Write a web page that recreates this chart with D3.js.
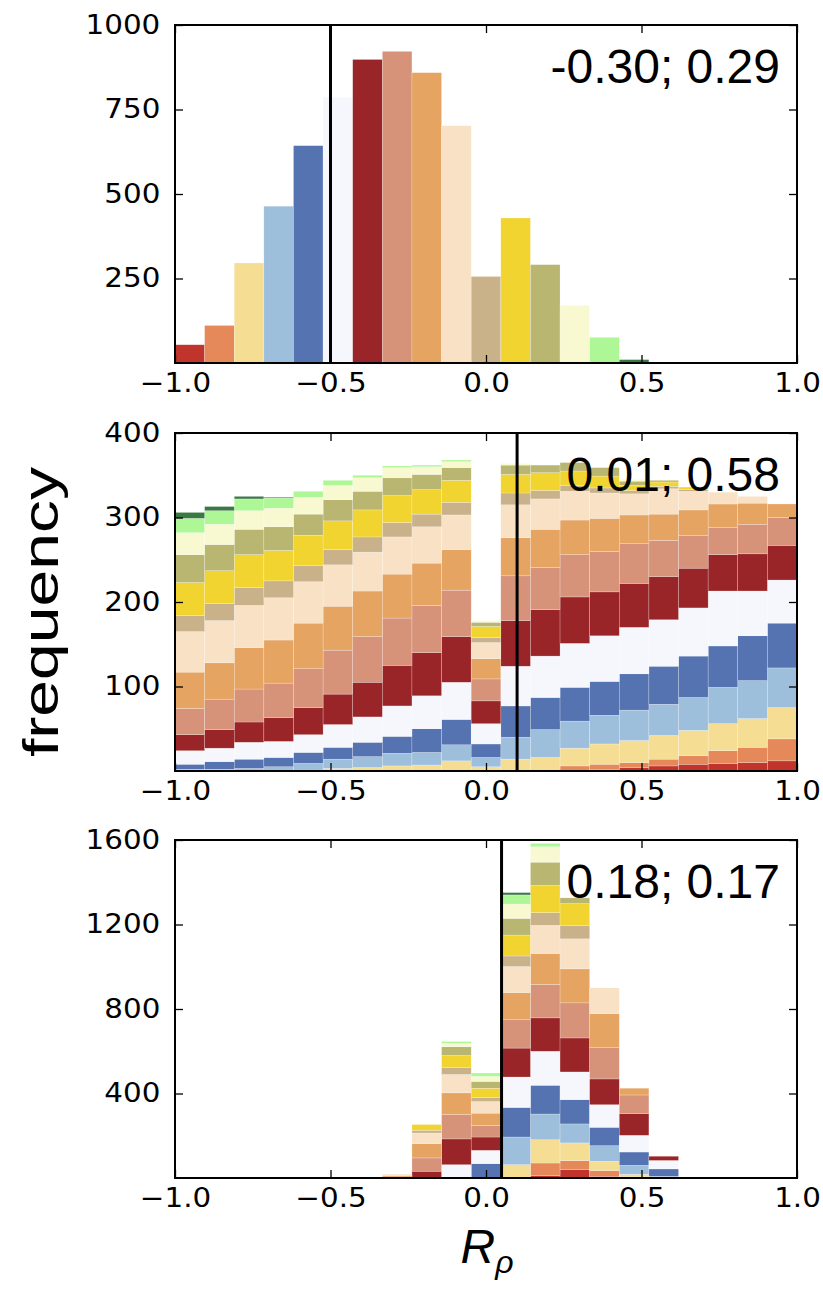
<!DOCTYPE html>
<html><head><meta charset="utf-8">
<script src="https://cdn.jsdelivr.net/npm/d3@7"></script>
<style>body{margin:0;background:#fff}</style>
</head><body>
<svg id="c" width="823" height="1297"></svg>
<script>
// ---- data ----
const nBins = 21;
const binEdges = d3.range(nBins + 1).map(i => -1 + i * 2 / nBins);
const layerColors = ["#c0342c","#e5895a","#f5dd93","#9ebfdc","#5573b1","#f6f7fd","#9a2528","#d6937a",
                     "#e6a463","#f8e1c4","#c9b28a","#f2d431","#b9b671","#f9f9d1","#aef797","#3a7a42"];
// panel 1: one layer per bin (bin k -> layer k)
const p1Counts = [54,111,296,464,643,786,898,922,859,702,256,429,291,170,76,10];
// panel 2: per bin, counts of the 16 layers (bottom -> top)
const p2Columns = [
  [0,0,0,2,6,16,19,31,43,48,19,39,33,26,17,7],
  [0,0,0,2,9,16,22,36,43,50,20,39,31,24,16,5],
  [0,0,0,3,11,20,24,39,49,50,21,39,30,22,14,3],
  [0,0,0,5,11,19,28,41,51,50,20,36,28,22,12,1],
  [0,0,1,8,13,21,32,46,54,49,19,36,25,20,7,0],
  [0,0,3,11,14,27,36,52,52,49,18,34,25,17,6,0],
  [0,0,4,13,17,30,41,54,54,46,18,32,22,16,3,0],
  [0,0,6,15,20,36,48,56,52,44,17,32,21,12,2,0],
  [0,0,7,15,28,39,51,56,50,43,15,29,18,9,2,0],
  [0,0,12,19,30,44,54,55,48,41,15,26,15,7,2,0],
  [0,0,5,11,16,24,27,26,24,19,6,13,5,2,0,0],
  [0,1,13,26,37,47,54,53,45,39,14,22,11,2,0,0],
  [0,2,14,33,38,49,55,50,45,36,10,21,9,0,0,0],
  [1,5,21,32,40,52,55,50,41,34,7,17,10,0,0,0],
  [2,6,24,34,40,54,52,48,39,30,6,14,10,0,0,0],
  [4,6,26,36,43,55,52,47,34,25,4,6,5,2,0,0],
  [6,8,28,37,45,55,51,43,31,30,3,5,2,0,0,0],
  [8,10,30,39,49,57,47,39,30,22,2,3,0,0,0,0],
  [9,15,32,43,49,65,43,32,28,14,0,0,0,0,0,0],
  [10,18,34,45,53,53,44,35,25,8,0,0,0,0,0,0],
  [12,26,37,47,53,51,41,33,16,0,0,0,0,0,0,0]
];
// panel 3
const p3Columns = [
  [0,0,0,0,0,0,0,0,0,0,0,0,0,0,0,0],
  [0,0,0,0,0,0,0,0,0,0,0,0,0,0,0,0],
  [0,0,0,0,0,0,0,0,0,0,0,0,0,0,0,0],
  [0,0,0,0,0,0,0,0,0,0,0,0,0,0,0,0],
  [0,0,0,0,0,0,0,0,0,0,0,0,0,0,0,0],
  [0,0,0,0,0,0,0,0,0,0,0,0,0,0,0,0],
  [0,0,0,0,0,0,0,0,0,0,0,0,0,0,0,0],
  [0,0,0,0,0,0,0,4,6,8,0,0,0,0,0,0],
  [0,0,0,0,0,0,32,63,68,50,13,27,0,0,0,0],
  [0,0,0,0,0,63,122,115,103,87,32,58,41,16,9,0],
  [0,0,0,0,68,63,63,55,58,55,19,44,32,24,16,0],
  [0,0,63,131,140,144,137,134,129,123,50,99,79,68,43,11],
  [11,60,110,122,136,161,158,158,147,133,60,129,110,73,16,0],
  [39,43,84,90,115,131,161,166,161,142,63,104,27,0,0,0],
  [8,27,44,74,87,107,122,150,159,122,0,0,0,0,0,0],
  [0,5,12,43,63,79,103,88,32,0,0,0,0,0,0,0],
  [0,0,0,8,35,40,20,0,0,0,0,0,0,0,0,0],
  [0,0,0,0,0,0,0,0,0,0,0,0,0,0,0,0],
  [0,0,0,0,0,0,0,0,0,0,0,0,0,0,0,0],
  [0,0,0,0,0,0,0,0,0,0,0,0,0,0,0,0],
  [0,0,0,0,0,0,0,0,0,0,0,0,0,0,0,0]
];
const xTicks = [-1, -0.5, 0, 0.5, 1];
const p1YTicks = [250, 500, 750, 1000];
const p2YTicks = [100, 200, 300, 400];
const p3YTicks = [400, 800, 1200, 1600];
const markers = [-0.5, 0.10, 0.05];
const notes = ["-0.30; 0.29", "0.01; 0.58", "0.18; 0.17"];

// panel 1 columns built from its counts
const p1Columns = d3.range(nBins).map(b => d3.range(16).map(k => (k === b && b < p1Counts.length) ? p1Counts[b] : 0));

const panels = [
  {cols: p1Columns, ymax: 1000, yTicks: p1YTicks, top: 25, marker: markers[0], note: notes[0]},
  {cols: p2Columns, ymax: 400, yTicks: p2YTicks, top: 433, marker: markers[1], note: notes[1]},
  {cols: p3Columns, ymax: 1600, yTicks: p3YTicks, top: 840, marker: markers[2], note: notes[2]}
];

const svg = d3.select("#c");
const L = 175, R = 797, H = 338;
const x = d3.scaleLinear().domain([-1, 1]).range([L, R]);
const tickFont = "'DejaVu Sans', sans-serif";
const sx = 1.13;

panels.forEach(p => {
  const y = d3.scaleLinear().domain([0, p.ymax]).range([p.top + H, p.top]);
  const g = svg.append("g");
  const series = d3.stack().keys(d3.range(16))(p.cols);
  series.forEach((s, k) => {
    g.selectAll(null).data(s.map((d, i) => ({d, i})).filter(o => o.d[1] - o.d[0] > 0))
      .enter().append("rect")
      .attr("x", o => x(binEdges[o.i]))
      .attr("width", o => x(binEdges[o.i + 1]) - x(binEdges[o.i]))
      .attr("y", o => y(o.d[1]))
      .attr("height", o => y(o.d[0]) - y(o.d[1]))
      .attr("fill", layerColors[k])
      .attr("stroke", "#ffffff").attr("stroke-width", 0.5).attr("stroke-opacity", 0.45);
  });
  // marker line
  g.append("line").attr("x1", x(p.marker)).attr("x2", x(p.marker))
    .attr("y1", p.top).attr("y2", p.top + H).attr("stroke", "#000").attr("stroke-width", 3);
  // axes
  const style = a => {
    a.selectAll(".domain").remove();
    a.selectAll(".tick line").attr("stroke", "#000").attr("stroke-width", 1.3);
    a.selectAll("text").attr("font-family", tickFont).attr("font-size", 26).attr("fill", "#000");
  };
  g.append("g").attr("transform", `translate(0,${p.top + H})`)
    .call(d3.axisBottom(x).tickValues(xTicks).tickSize(-8).tickPadding(11).tickFormat(d3.format(".1f")))
    .call(style)
    .call(a => a.selectAll("text").attr("transform", `scale(${sx},1)`));
  g.append("g").attr("transform", `translate(0,${p.top})`)
    .call(d3.axisTop(x).tickValues(xTicks).tickSize(-8).tickFormat(""))
    .call(style);
  g.append("g").attr("transform", `translate(${L},0)`)
    .call(d3.axisLeft(y).tickValues(p.yTicks).tickSize(-8).tickPadding(13).tickFormat(d3.format("d")))
    .call(style)
    .call(a => a.selectAll("text").attr("transform", `scale(${sx},1)`));
  g.append("g").attr("transform", `translate(${R},0)`)
    .call(d3.axisRight(y).tickValues(p.yTicks).tickSize(-8).tickFormat(""))
    .call(style);
  // frame
  g.append("rect").attr("x", L).attr("y", p.top).attr("width", R - L).attr("height", H)
    .attr("fill", "none").attr("stroke", "#000").attr("stroke-width", 2);
  // annotation
  g.append("text").attr("x", 780).attr("y", p.top + 58).attr("text-anchor", "end")
    .attr("font-family", "'Liberation Sans', Arial, sans-serif").attr("font-size", 48)
    .text(p.note);
});

// y label
svg.append("text").attr("transform", "translate(58,612) rotate(-90)")
  .attr("text-anchor", "middle").attr("font-family", "'Liberation Sans', Arial, sans-serif")
  .attr("font-size", 50).attr("textLength", 290).attr("lengthAdjust", "spacingAndGlyphs")
  .text("frequency");
// x label
const xl = svg.append("text").attr("x", 487).attr("y", 1263).attr("text-anchor", "middle")
  .attr("font-family", "'Liberation Sans', Arial, sans-serif").attr("font-style", "italic").attr("font-size", 48);
xl.append("tspan").text("R");
xl.append("tspan").attr("font-size", 32).attr("dy", 10).text("ρ");
</script>
</body></html>
